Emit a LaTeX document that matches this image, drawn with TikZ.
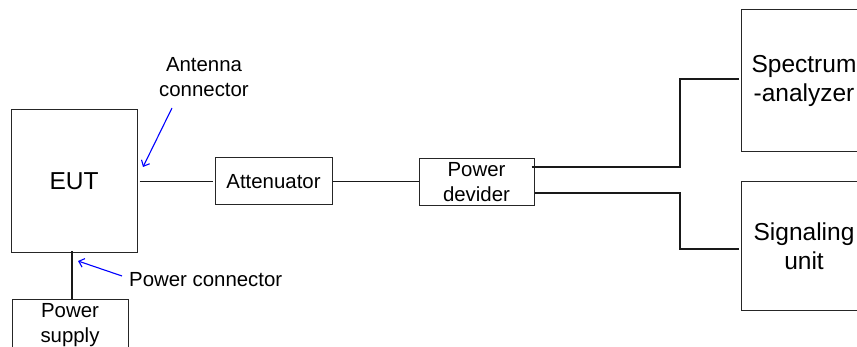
\documentclass[tikz,border=0pt]{standalone}
\usepackage{fontspec}
\setmainfont{Liberation Sans}
\usetikzlibrary{arrows.meta,calc}
\begin{document}
\begin{tikzpicture}[x=1pt,y=-1pt,
  box/.style={draw=black!85, line width=1pt, inner sep=0pt, align=center,
    font=\fontsize{20.4}{25}\selectfont},
  bigbox/.style={box, font=\fontsize{24.5}{29}\selectfont},
  lbl/.style={inner sep=0pt, align=center, font=\fontsize{20.4}{25}\selectfont},
  wire/.style={line width=1.2pt, black!90},
  ptr/.style={blue, line width=1.1pt, -{Straight Barb[length=5pt,width=9pt]}}]
\clip (0,0) rectangle (857,347);
\fill[white] (0,0) rectangle (857,347);
% boxes
\node[bigbox, minimum width=126, minimum height=143] (eut) at (74,181.5) {EUT};
\node[box, minimum width=117, minimum height=47] (att) at (273.5,181.5) {Attenuator};
\node[box, minimum width=115, minimum height=47] (pd) at (476.5,182.5) {Power\\devider};
\node[bigbox, minimum width=126, minimum height=142] (sa) at (804,81) {Spectrum\\-analyzer};
\node[bigbox, minimum width=126, minimum height=129] (su) at (804,246.5) {Signaling\\unit};
\node[box, minimum width=116, minimum height=50] (ps) at (70,325) {Power\\supply};
% labels
\node[lbl] (antl) at (204,77.5) {Antenna\\connector};
\node[lbl, anchor=west] (pwl) at (129,280) {Power connector};
% wires
\draw[wire] ([xshift=2]eut.east |- att.west) -- ([xshift=-2]att.west);
\draw[wire] (att.east) -- (pd.west |- att.east);
\coordinate (pdo1) at ($(pd.east)+(-3,-15.5)$);
\coordinate (pdo2) at ($(pd.east)+(0,10.5)$);
\coordinate (j1) at (680,79);
\coordinate (j2) at (680,249);
\draw[wire] (pdo1) -| (j1) -- ([xshift=-2]j1 -| sa.west);
\draw[wire] (pdo2) -| (j2) -- ([xshift=-2]j2 -| su.west);
\draw[wire] ([xshift=-2,yshift=2]eut.south) -- ([xshift=-2]eut.south |- ps.north);
% pointers
\coordinate (a1s) at (172,108);
\coordinate (a1e) at (143,167);
\coordinate (a2s) at (122,276);
\coordinate (a2e) at (78,261);
\draw[ptr] (a1s) -- (a1e);
\draw[ptr] (a2s) -- (a2e);
\end{tikzpicture}
\end{document}
